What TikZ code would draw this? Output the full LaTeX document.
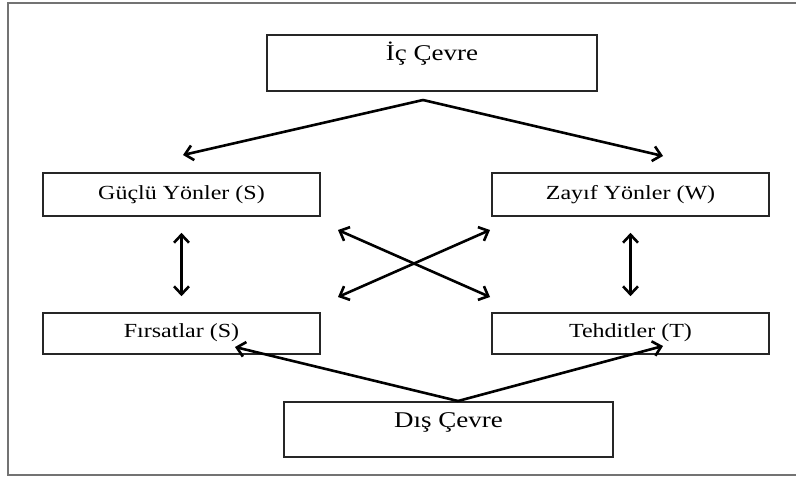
\documentclass[tikz,border=0pt]{standalone}
\usepackage{fontspec}
\setmainfont[FakeStretch=1.2]{Liberation Serif}
\usetikzlibrary{arrows.meta}
\definecolor{boxgray}{gray}{0.15}
\definecolor{framegray}{gray}{0.45}
\begin{document}
\begin{tikzpicture}[x=1pt,y=-1pt,
  box/.style={draw=boxgray, line width=1.6pt, rectangle, inner sep=0pt,
    align=center, text=black},
  smallbox/.style={box, minimum width=277pt, font=\fontsize{20}{24}\selectfont},
  bigbox/.style={box, font=\fontsize{22.5}{27}\selectfont},
  tip/.style={Straight Barb[length=8pt,width=15pt]},
  link/.style={line width=2.6pt, -{Straight Barb[length=8pt,width=15pt]}},
  dbl/.style={line width=2.6pt, {Straight Barb[length=8pt,width=15pt]}-{Straight Barb[length=8pt,width=15pt]}}]
\useasboundingbox (0,0) rectangle (796,477);
\clip (0,0) rectangle (796,477);

% outer frame
\draw[framegray, line width=2.6pt] (820,3) -- (8,3) -- (8,475) -- (820,475);

% boxes
\node[bigbox, minimum width=330pt, text height=25pt, text depth=31pt] (ic) at (432,63) {İç Çevre};
\node[smallbox, text height=26pt, text depth=17pt] (guclu) at (181.5,194.5) {Güçlü Yönler (S)};
\node[smallbox, text height=26pt, text depth=17pt] (zayif) at (630.5,194.5) {Zayıf Yönler (W)};
\node[smallbox, text height=24pt, text depth=17pt] (firsat) at (181.5,333.5) {Fırsatlar (S)};
\node[smallbox, text height=24pt, text depth=17pt] (tehdit) at (630.5,333.5) {Tehditler (T)};
\node[bigbox, minimum width=329pt, text height=25pt, text depth=30pt] (dis) at (448.5,429.5) {Dış Çevre};

% free ends of the connectors
\coordinate (icfork) at (423,100);
\coordinate (sTo) at (183,155);
\coordinate (wTo) at (663,156);
\coordinate (disfork) at (458,401);
\coordinate (oTo) at (235,347);
\coordinate (tTo) at (663,346);
\coordinate (xa) at (338,230);
\coordinate (xb) at (490,297);
\coordinate (xc) at (490,230);
\coordinate (xd) at (338,297);

% internal environment
\draw[link] (icfork) -- (sTo);
\draw[link] (icfork) -- (wTo);

% vertical links
\draw[dbl] ([yshift=-16pt]guclu.south) -- ([yshift=16pt]firsat.north);
\draw[dbl] ([yshift=-16pt]zayif.south) -- ([yshift=16pt]tehdit.north);

% cross links
\draw[dbl] (xa) -- (xb);
\draw[dbl] (xc) -- (xd);

% external environment
\draw[link] (disfork) -- (oTo);
\draw[link] (disfork) -- (tTo);
\end{tikzpicture}
\end{document}
